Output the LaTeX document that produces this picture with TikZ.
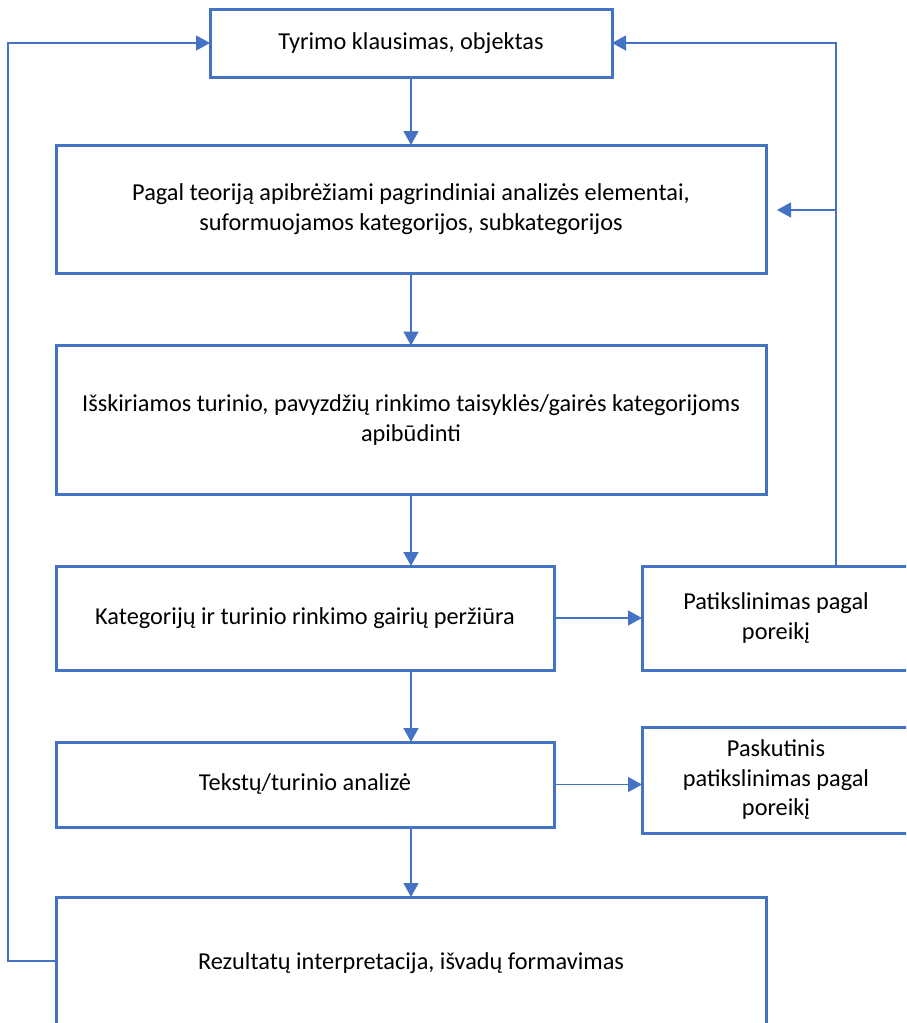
\documentclass[tikz,border=0pt]{standalone}
\usepackage{fontspec}
\setmainfont{Carlito}
\usetikzlibrary{arrows.meta}
\definecolor{flowblue}{HTML}{4472C4}
\begin{document}
\begin{tikzpicture}[x=1pt,y=-1pt,
  flowbox/.style={draw=flowblue, line width=3pt, fill=white, align=center,
    inner sep=0pt, outer sep=0pt,
    font=\fontsize{24.3}{29.5}\selectfont},
  link/.style={draw=flowblue, line width=1.3pt,
    -{Triangle[length=14pt,width=15pt]}}]
\useasboundingbox (0,0) rectangle (906,1023);
\clip (0,0) rectangle (906,1023);

% boxes
\node[flowbox, minimum width=402pt, minimum height=68pt] (q) at (411,43)
  {Tyrimo klausimas, objektas};
\node[flowbox, minimum width=710pt, minimum height=128pt] (theory) at (411,209)
  {Pagal teoriją apibrėžiami pagrindiniai analizės elementai,\\suformuojamos kategorijos, subkategorijos};
\node[flowbox, minimum width=710pt, minimum height=149pt] (rules) at (411,420)
  {Išskiriamos turinio, pavyzdžių rinkimo taisyklės/gairės kategorijoms\\apibūdinti};
\node[flowbox, minimum width=498pt, minimum height=104pt] (review) at (305,618)
  {Kategorijų ir turinio rinkimo gairių peržiūra};
\node[flowbox, minimum width=268pt, minimum height=104pt] (refine) at (776,618)
  {Patikslinimas pagal\\poreikį};
\node[flowbox, minimum width=498pt, minimum height=85pt] (analysis) at (305,784.5)
  {Tekstų/turinio analizė};
\node[flowbox, minimum width=268pt, minimum height=106pt] (last) at (776,780)
  {Paskutinis\\patikslinimas pagal\\poreikį};
\node[flowbox, minimum width=710pt, minimum height=132pt] (results) at (411,963)
  {Rezultatų interpretacija, išvadų formavimas};

% main vertical chain
\draw[link] (q.south) -- (theory.north);
\draw[link] (theory.south) -- (rules.north);
\draw[link] (rules.south) -- (review.north -| rules.south);
\draw[link] (review.south -| rules.south) -- (analysis.north -| rules.south);
\draw[link] (analysis.south -| rules.south) -- (results.north);

% side branches
\draw[link] (review.east) -- (refine.west);
\draw[link] (analysis.east) -- (last.west |- analysis.east);

% feedback from the refinement box
\coordinate (rtop) at (836,43);
\coordinate (rmid) at (836,210);
\coordinate (rtip) at (777,210);
\draw[link] (refine.north -| rtop) -- (rtop) -- (q.east);
\draw[link] (rmid) -- (rtip);

% feedback from the results box
\coordinate (lbot) at (8,961);
\coordinate (ltop) at (8,43);
\draw[link] (results.west |- lbot) -- (lbot) -- (ltop) -- (q.west);
\end{tikzpicture}
\end{document}
